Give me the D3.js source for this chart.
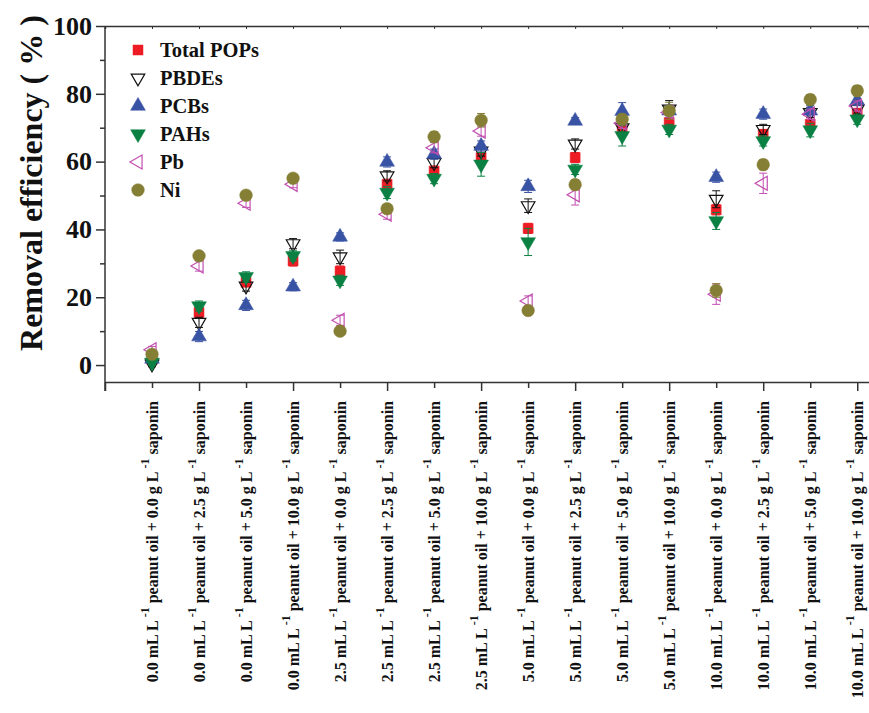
<!DOCTYPE html>
<html>
<head>
<meta charset="utf-8">
<script src="https://cdn.jsdelivr.net/npm/d3@7"></script>
<style>
  body { margin: 0; background: #fff; }
  svg { display: block; font-family: "Liberation Serif", "Times New Roman", serif; font-weight: bold; }
</style>
</head>
<body>
<svg id="chart" width="869" height="713"></svg>
<script>
// treatments: peanut oil dose (mL/L) and saponin dose (g/L)
const oilDose = ["0.0", "0.0", "0.0", "0.0", "2.5", "2.5", "2.5", "2.5", "5.0", "5.0", "5.0", "5.0", "10.0", "10.0", "10.0", "10.0"];
const sapDose = ["0.0", "2.5", "5.0", "10.0", "0.0", "2.5", "5.0", "10.0", "0.0", "2.5", "5.0", "10.0", "0.0", "2.5", "5.0", "10.0"];

// removal efficiency (%)
const totalPOPs = [1.5, 15.5, 24.4, 30.7, 27.7, 53.3, 57.2, 61.2, 40.3, 61.2, 69.3, 71.5, 45.8, 68.0, 71.0, 74.2];
const pbdes     = [0.3, 12.6, 23.3, 35.8, 31.9, 55.8, 59.7, 63.1, 47.0, 65.2, 70.0, 75.5, 48.9, 69.5, 74.5, 75.5];
const pcbs      = [1.8, 8.4, 17.6, 23.1, 37.8, 59.9, 62.2, 64.6, 52.7, 72.0, 74.9, 75.0, 55.4, 74.0, 75.0, 78.0];
const pahs      = [0.8, 17.4, 26.0, 32.2, 25.0, 50.9, 55.0, 59.2, 36.3, 57.7, 67.6, 69.5, 42.5, 66.1, 69.3, 72.5];
const pb        = [4.5, 29.2, 47.7, 53.3, 13.2, 44.5, 64.1, 69.0, 18.9, 50.2, 71.3, 74.5, 20.9, 53.6, 74.0, 76.4];
const ni        = [3.2, 32.2, 50.1, 55.1, 10.0, 46.1, 67.3, 72.2, 16.1, 53.2, 72.5, 75.0, 22.0, 59.1, 78.3, 80.9];

// standard deviations (estimated from error bars)
const errTotal = [0.8, 1.5, 1.2, 1.5, 1.5, 1.5, 1.5, 1.5, 1.5, 1.5, 1.5, 1.5, 1.5, 1.5, 1.5, 1.5];
const errPbdes = [0.8, 1.5, 1.5, 1.5, 2.0, 1.5, 1.5, 1.5, 2.0, 1.5, 2.0, 2.5, 2.5, 1.5, 1.5, 1.5];
const errPcbs  = [0.8, 1.5, 1.5, 1.2, 1.2, 1.5, 1.5, 1.5, 1.8, 1.0, 2.5, 1.5, 1.5, 1.5, 1.5, 1.5];
const errPahs  = [0.8, 1.5, 1.5, 1.5, 1.5, 1.8, 1.5, 3.5, 4.0, 1.5, 3.0, 1.5, 2.5, 1.5, 2.0, 1.5];
const errPb    = [1.0, 1.5, 1.2, 1.0, 1.5, 1.5, 1.5, 1.5, 1.5, 3.0, 1.5, 1.5, 3.0, 3.0, 1.5, 1.5];
const errNi    = [1.0, 1.0, 1.0, 1.0, 1.0, 1.0, 1.5, 2.0, 1.0, 1.5, 1.5, 2.5, 2.0, 1.5, 1.5, 1.5];

const series = [
  { name: "Total POPs", values: totalPOPs, err: errTotal, type: d3.symbolSquare,   size: 100, rot: 0,   color: "#ed1c24", fill: true },
  { name: "PBDEs",      values: pbdes,     err: errPbdes, type: d3.symbolTriangle, size: 80,  rot: 180, color: "#111111", fill: false },
  { name: "PCBs",       values: pcbs,      err: errPcbs,  type: d3.symbolTriangle, size: 95,  rot: 0,   color: "#3953a4", fill: true },
  { name: "PAHs",       values: pahs,      err: errPahs,  type: d3.symbolTriangle, size: 95,  rot: 180, color: "#0a8043", fill: true },
  { name: "Pb",         values: pb,        err: errPb,    type: d3.symbolTriangle, size: 85,  rot: -90, color: "#c24fb0", fill: false },
  { name: "Ni",         values: ni,        err: errNi,    type: d3.symbolCircle,   size: 125, rot: 0,   color: "#857f35", fill: true }
];

const svg = d3.select("#chart");
const plotLeft = 105, plotRight = 869, plotTop = 26, plotBottom = 382;

const x = d3.scaleLinear().domain([0, 16.25]).range([plotLeft, plotRight]);
const y = d3.scaleLinear().domain([-5, 100]).range([plotBottom, plotTop]);

const axisColor = "#333";

// frame top line with small inward ticks
const topAxis = svg.append("g")
  .attr("transform", `translate(0,${plotTop})`)
  .call(d3.axisTop(x).tickValues(d3.range(0, 17)).tickSize(-3).tickFormat(""));
topAxis.select(".domain").attr("stroke", axisColor).attr("stroke-width", 1.5);
topAxis.selectAll(".tick line").attr("stroke", axisColor).attr("stroke-width", 1);

// bottom axis, alternating tick lengths
const bottomAxis = svg.append("g")
  .attr("transform", `translate(0,${plotBottom})`)
  .call(d3.axisBottom(x).tickValues(d3.range(0, 17)).tickSizeOuter(0).tickFormat(""));
bottomAxis.select(".domain").attr("stroke", axisColor).attr("stroke-width", 1.5);
bottomAxis.selectAll(".tick line")
  .attr("stroke", axisColor).attr("stroke-width", 1.5)
  .attr("y2", d => d % 2 === 0 ? 9 : 6);

// left axis
const yAxis = svg.append("g")
  .attr("transform", `translate(${plotLeft},0)`)
  .call(d3.axisLeft(y).tickValues(d3.range(0, 101, 10)).tickSizeOuter(0)
    .tickFormat(d => d % 20 === 0 ? d : ""));
yAxis.select(".domain").attr("stroke", axisColor).attr("stroke-width", 1.5)
  .attr("d", `M0,${plotTop}V${plotBottom + 9}`);
yAxis.selectAll(".tick line")
  .attr("stroke", axisColor).attr("stroke-width", 1.5)
  .attr("x2", d => d % 20 === 0 ? -9 : -5);
yAxis.selectAll(".tick text")
  .attr("x", -13)
  .attr("fill", "#111")
  .style("font-family", "'Liberation Serif', serif")
  .style("font-weight", "bold")
  .style("font-size", "26px");

// y title
svg.append("text")
  .attr("transform", `translate(42,183) rotate(-90)`)
  .attr("text-anchor", "middle")
  .attr("fill", "#111")
  .style("font-size", "32px")
  .text("Removal efficiency ( % )");

// x category labels, rotated
const labels = svg.append("g").attr("fill", "#111").style("font-size", "16px");
oilDose.forEach((oil, i) => {
  const t = labels.append("text")
    .attr("transform", `translate(${x(i + 1) + 6},401) rotate(-90)`)
    .attr("text-anchor", "end");
  t.append("tspan").text(`${oil} mL L `);
  t.append("tspan").attr("dy", -9).style("font-size", "12px").text("-1");
  t.append("tspan").attr("dy", 9).text(`  peanut oil + ${sapDose[i]} g L `);
  t.append("tspan").attr("dy", -9).style("font-size", "12px").text("-1");
  t.append("tspan").attr("dy", 9).text("  saponin");
});

// error bars + markers
const sym = s => d3.symbol().type(s.type).size(s.size)();

series.forEach(s => {
  const g = svg.append("g");
  s.values.forEach((v, i) => {
    const cx = x(i + 1);
    const e = s.err[i];
    g.append("path")
      .attr("d", `M${cx},${y(v - e)}V${y(v + e)}M${cx - 4},${y(v - e)}H${cx + 4}M${cx - 4},${y(v + e)}H${cx + 4}`)
      .attr("stroke", s.color).attr("stroke-width", 1).attr("fill", "none");
  });
  g.selectAll(".pt")
    .data(s.values)
    .join("path")
    .attr("d", sym(s))
    .attr("transform", (v, i) => `translate(${x(i + 1)},${y(v)}) rotate(${s.rot})`)
    .attr("fill", s.fill ? s.color : "none")
    .attr("stroke", s.color)
    .attr("stroke-width", s.fill ? 0.5 : 1.2);
});

// legend
const legend = svg.append("g").attr("fill", "#111").style("font-size", "20.5px");
series.forEach((s, k) => {
  const ly = 50 + k * 28;
  legend.append("path")
    .attr("d", sym(s))
    .attr("transform", `translate(138,${ly}) rotate(${s.rot})`)
    .attr("fill", s.fill ? s.color : "none")
    .attr("stroke", s.color)
    .attr("stroke-width", s.fill ? 0.5 : 1.2);
  legend.append("text")
    .attr("x", 160).attr("y", ly + 7)
    .text(s.name);
});
</script>
</body>
</html>
